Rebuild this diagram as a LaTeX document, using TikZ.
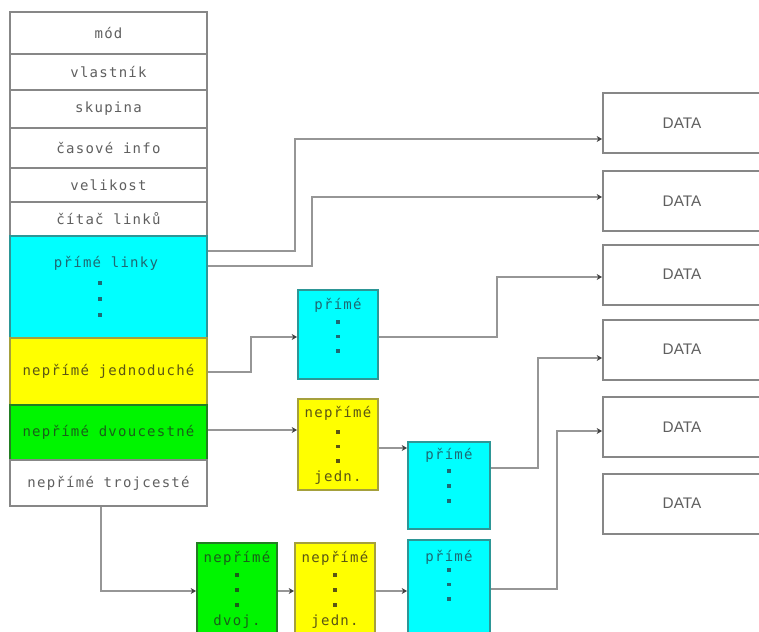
\documentclass[tikz,border=0pt]{standalone}
\usepackage{fontspec}
\setmainfont{Liberation Sans}
\setmonofont{DejaVu Sans Mono}[LetterSpace=9]
\usetikzlibrary{arrows.meta}

\definecolor{linegray}{RGB}{150,150,150}
\definecolor{framegray}{RGB}{135,135,135}
\definecolor{txtgray}{RGB}{95,95,95}
\definecolor{cyanfill}{RGB}{0,255,255}
\definecolor{cyanedge}{RGB}{45,150,150}
\definecolor{cyantext}{RGB}{30,105,115}
\definecolor{yelfill}{RGB}{255,255,0}
\definecolor{yeledge}{RGB}{165,160,60}
\definecolor{yeltext}{RGB}{90,85,20}
\definecolor{grnfill}{RGB}{0,245,0}
\definecolor{grnedge}{RGB}{35,125,35}
\definecolor{grntext}{RGB}{25,95,25}

\tikzset{
  sz/.style 2 args={minimum width=#1*0.75pt, minimum height=#2*0.75pt},
  cell/.style={draw=framegray, line width=1.5pt, fill=white, inner sep=0pt,
    font=\ttfamily\fontsize{10.5pt}{12pt}\selectfont, text=txtgray},
  cyanbox/.style={cell, draw=cyanedge, fill=cyanfill, text=cyantext},
  yelbox/.style={cell, draw=yeledge, fill=yelfill, text=yeltext},
  grnbox/.style={cell, draw=grnedge, fill=grnfill, text=grntext},
  databox/.style={draw=framegray, line width=1.5pt, fill=white, inner sep=0pt,
    sz={158}{60}, font=\fontsize{11.5pt}{13pt}\selectfont, text=txtgray},
  lbl/.style={inner sep=0pt, font=\ttfamily\fontsize{10.5pt}{12pt}\selectfont},
  link/.style={draw=linegray, line width=1.5pt,
    -{Stealth[length=4pt, width=4.5pt, color=black!75]}},
}

\newcommand\dotstack[4]{% x, first y, step, colour
  \foreach \k in {0,1,2}
    \fill[#4] ({#1-1.7},{#2+\k*#3-1.7}) rectangle ({#1+1.7},{#2+\k*#3+1.7});}

\begin{document}
\begin{tikzpicture}[x=0.75pt, y=-0.75pt]
\useasboundingbox (0,0) rectangle (759,631);
\fill[white] (0,0) rectangle (759,631);
\clip (0,0) rectangle (759,631);

% inode column
\node[cell, sz={197}{42}]  (mod)  at (108.5,33)    {mód};
\node[cell, sz={197}{36}]  (own)  at (108.5,72)    {vlastník};
\node[cell, sz={197}{38}]  (grp)  at (108.5,109)   {skupina};
\node[cell, sz={197}{40}]  (tim)  at (108.5,148)   {časové info};
\node[cell, sz={197}{34}]  (siz)  at (108.5,185)   {velikost};
\node[cell, sz={197}{34}]  (cnt)  at (108.5,219)   {čítač linků};
\node[cyanbox, sz={197}{102}] (pl) at (108.5,287)  {};
\node[yelbox, sz={197}{67}]  (nj) at (108.5,371.5) {nepřímé jednoduché};
\node[grnbox, sz={197}{55}]  (nd) at (108.5,432.5) {nepřímé dvoucestné};
\node[cell, sz={197}{46}]    (nt) at (108.5,483)   {nepřímé trojcesté};
\node[lbl, text=cyantext] (plt) at (106,263) {přímé linky};
\dotstack{100}{283}{16}{cyantext}

% indirect blocks
\node[cyanbox, sz={80}{89}] (p1) at (338,334.5) {};
\node[lbl, text=cyantext] (p1t) at (338,305) {přímé};
\dotstack{338}{322}{14.5}{cyantext}

\node[yelbox, sz={80}{91}] (n1) at (338,444.5) {};
\node[lbl, text=yeltext] (n1t) at (338,413) {nepřímé};
\node[lbl, text=yeltext] (n1b) at (338,478) {jedn.};
\dotstack{338}{432}{14.5}{yeltext}

\node[cyanbox, sz={82}{87}] (p2) at (449,485.5) {};
\node[lbl, text=cyantext] (p2t) at (449,455) {přímé};
\dotstack{449}{471}{15}{cyantext}

\node[grnbox, sz={80}{97}] (d3) at (237,591.5) {};
\node[lbl, text=grntext] (d3t) at (237,558) {nepřímé};
\node[lbl, text=grntext] (d3b) at (237,622) {dvoj.};
\dotstack{237}{575}{15}{grntext}

\node[yelbox, sz={80}{97}] (n3) at (335,591.5) {};
\node[lbl, text=yeltext] (n3t) at (335,558) {nepřímé};
\node[lbl, text=yeltext] (n3b) at (335,622) {jedn.};
\dotstack{335}{575}{15}{yeltext}

\node[cyanbox, sz={82}{100}] (p3) at (449,590) {};
\node[lbl, text=cyantext] (p3t) at (449,557) {přímé};
\dotstack{449}{570}{14.5}{cyantext}

% data blocks
\node[databox] (D1) at (682,123)   {DATA};
\node[databox] (D2) at (682,201)   {DATA};
\node[databox] (D3) at (682,274.5) {DATA};
\node[databox] (D4) at (682,349.5) {DATA};
\node[databox] (D5) at (682,427)   {DATA};
\node[databox] (D6) at (682,503.5) {DATA};

% pointers
\draw[link] (pl.east |- 0,251) -| (295,139) -- (D1.west |- 0,139);
\draw[link] (pl.east |- 0,266) -| (312,197) -- (D2.west |- 0,197);
\draw[link] (nj.east |- 0,372) -| (251,337) -- (p1.west |- 0,337);
\draw[link] (p1.east |- 0,337) -| (497,277) -- (D3.west |- 0,277);
\draw[link] (nd.east |- 0,430) -- (n1.west |- 0,430);
\draw[link] (n1.east |- 0,448) -- (p2.west |- 0,448);
\draw[link] (p2.east |- 0,468) -| (538,358) -- (D4.west |- 0,358);
\draw[link] (nt.south -| 101,0) |- (d3.west |- 0,591);
\draw[link] (d3.east |- 0,591) -- (n3.west |- 0,591);
\draw[link] (n3.east |- 0,591) -- (p3.west |- 0,591);
\draw[link] (p3.east |- 0,589) -| (557,431) -- (D5.west |- 0,431);
\end{tikzpicture}
\end{document}
